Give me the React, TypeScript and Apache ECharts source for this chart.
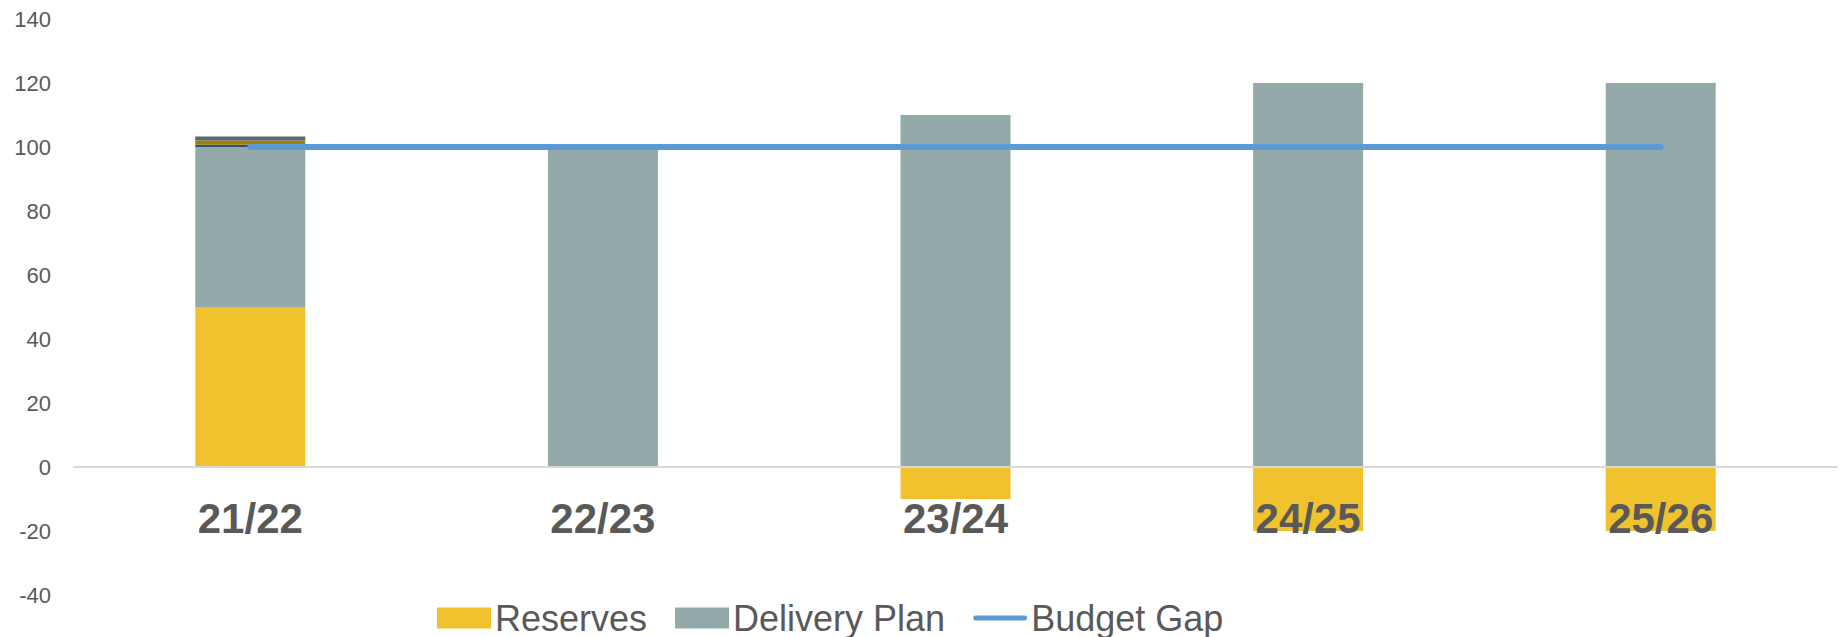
import React, { useEffect, useRef } from "react";
import * as echarts from "echarts";

const categories = ["21/22", "22/23", "23/24", "24/25", "25/26"];
const reserves = [50, null, -10, -20, -20];
const deliveryPlan = [50, 100, 110, 120, 120];
const stripeBlue = [0.7, null, null, null, null];
const stripeGold = [1.35, null, null, null, null];
const stripeSlate = [1.25, null, null, null, null];
const budgetGap = [100, 100, 100, 100, 100];
const yMin = -40;
const yMax = 140;
const yStep = 20;

export default function App() {
  const ref = useRef<HTMLDivElement>(null);
  useEffect(() => {
    const chart = echarts.init(ref.current!, null, { renderer: "svg" });
    const font = "'Liberation Sans', Arial, sans-serif";
    chart.setOption({
      animation: false,
      textStyle: { fontFamily: font },
      grid: {
        left: 74,
        right: 3,
        top: 19,
        bottom: 42,
        containLabel: false,
        outerBoundsMode: "none",
      },
      legend: {
        data: [
          { name: "Reserves", icon: "rect" },
          { name: "Delivery Plan", icon: "rect" },
          {
            name: "Budget Gap",
            icon: "path://M0,0 M56,21 M2.5,8 L53.5,8 A2.5,2.5 0 0 1 53.5,13 L2.5,13 A2.5,2.5 0 0 1 2.5,8 Z",
          },
        ],
        left: 437,
        top: 600,
        padding: 0,
        itemWidth: 54,
        itemHeight: 21,
        itemGap: 28,
        textStyle: {
          fontSize: 36,
          lineHeight: 36,
          color: "#595959",
          fontFamily: font,
          padding: [0, 0, 0, -1],
        },
      },
      xAxis: {
        type: "category",
        data: categories,
        z: 10,
        offset: -128,
        axisLine: { onZero: false, lineStyle: { color: "#d9d9d9", width: 2 } },
        axisTick: { show: false },
        axisLabel: {
          fontSize: 42,
          fontWeight: "bold",
          color: "#595959",
          margin: 30,
          fontFamily: font,
        },
      },
      yAxis: {
        type: "value",
        min: yMin,
        max: yMax,
        interval: yStep,
        axisLine: { show: false },
        axisTick: { show: false },
        splitLine: { show: false },
        axisLabel: { fontSize: 22, color: "#595959", margin: 23, fontFamily: font },
      },
      series: [
        {
          name: "Reserves",
          type: "bar",
          stack: "total",
          barWidth: 110,
          data: reserves,
          itemStyle: { color: "#F0C22E" },
        },
        {
          name: "Delivery Plan",
          type: "bar",
          stack: "total",
          barWidth: 110,
          data: deliveryPlan,
          itemStyle: { color: "#93A9AA" },
        },
        {
          name: "Stripe 1",
          type: "bar",
          stack: "total",
          barWidth: 110,
          data: stripeBlue,
          itemStyle: { color: "#2E4F7F" },
        },
        {
          name: "Stripe 2",
          type: "bar",
          stack: "total",
          barWidth: 110,
          data: stripeGold,
          itemStyle: { color: "#9E7F0A" },
        },
        {
          name: "Stripe 3",
          type: "bar",
          stack: "total",
          barWidth: 110,
          data: stripeSlate,
          itemStyle: { color: "#586A6A" },
        },
        {
          name: "Budget Gap",
          type: "line",
          data: budgetGap,
          symbol: "none",
          z: 5,
          lineStyle: { color: "#5B9BD5", width: 6, cap: "round" },
          itemStyle: { color: "#5B9BD5" },
        },
      ],
    });
    return () => chart.dispose();
  }, []);
  return (
    <div
      ref={ref}
      style={{ position: "fixed", left: 0, top: 0, width: 1840, height: 637, background: "#fff" }}
    />
  );
}
